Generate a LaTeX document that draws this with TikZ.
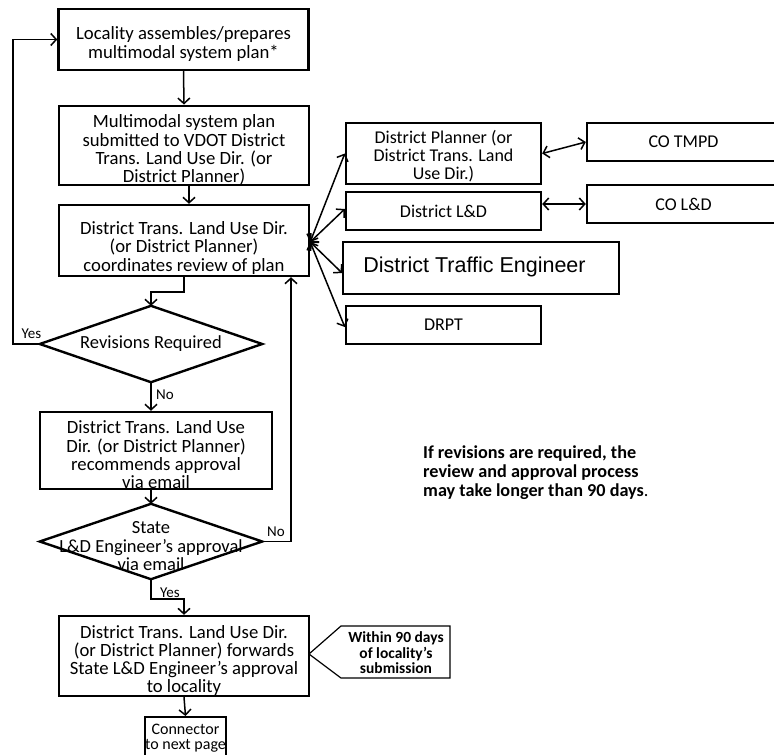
\documentclass[tikz,border=0pt]{standalone}
\usepackage{fontspec}
\setmainfont{Carlito}
\newfontfamily\arialf{Liberation Sans}
\usetikzlibrary{arrows.meta,calc}
\newcommand{\tstr}[1]{\rule{0pt}{#1}}
\begin{document}
\begin{tikzpicture}[x=1pt,y=-1pt,
  box/.style={draw, line width=2.4pt, align=center, inner sep=0pt,
    font=\fontsize{18.7}{18.3}\selectfont},
  rbox/.style={draw, line width=2.4pt, align=center, inner sep=0pt,
    font=\fontsize{18}{18}\selectfont},
  dia/.style={align=center, inner sep=0pt, minimum width=222pt, minimum height=76pt,
    font=\fontsize{18.5}{18.5}\selectfont},
  lab/.style={font=\fontsize{15}{15}\selectfont, inner sep=0pt},
  arr/.style={line width=1.5pt, -{Straight Barb[length=5.5pt,width=12pt,line width=1.5pt]}},
  darr/.style={line width=1.5pt, {Straight Barb[length=5.5pt,width=12pt,line width=1.5pt]}-{Straight Barb[length=5.5pt,width=12pt,line width=1.5pt]}},
  diaedge/.style={line width=2.4pt}
]
\useasboundingbox (0,0) rectangle (774,755);

% left column
\node[box, minimum width=250pt, minimum height=61pt] (b1) at (183.5,39.5)
  {\tstr{22pt}Locality assembles/prepares\\multimodal system plan*};
\node[box, minimum width=250pt, minimum height=75pt] (b2) at (184,145.5)
  {\tstr{22pt}Multimodal system plan\\submitted to VDOT District\\Trans. Land Use Dir. (or\\District Planner)};
\node[box, minimum width=250pt, minimum height=71pt] (b3) at (184,240.5)
  {\tstr{28pt}District Trans. Land Use Dir.\\(or District Planner)\\coordinates review of plan};
\node[dia] (d1) at (151,344) {Revisions Required};
\draw[diaedge] (d1.north) -- (d1.east) -- (d1.south) -- (d1.west) -- cycle;
\node[box, minimum width=232pt, minimum height=75pt] (b4) at (156,450.5)
  {\tstr{22pt}District Trans. Land Use\\Dir. (or District Planner)\\recommends approval\\via email};
\node[dia, minimum height=75pt] (d2) at (151,541.5)
  {\tstr{22pt}State\\L\&D Engineer’s approval\\via email};
\draw[diaedge] (d2.north) -- (d2.east) -- (d2.south) -- (d2.west) -- cycle;
\node[box, minimum width=250pt, minimum height=76pt] (b5) at (184,656)
  {\tstr{22pt}District Trans. Land Use Dir.\\(or District Planner) forwards\\State L\&D Engineer’s approval\\to locality};
\node[draw, line width=2pt, align=center, inner sep=0pt, minimum width=81pt,
  minimum height=42pt, anchor=north, font=\fontsize{16}{15}\selectfont] (conn) at (185.5,716)
  {Connector\\to next page};

% callout
\node[align=center, inner sep=0pt, font=\fontsize{15.5}{15.5}\selectfont\bfseries] (call) at (396,653)
  {Within 90 days\\of locality’s\\submission};
\draw[line width=1.2pt] (309,654) -- (341,626) -- (450,626) -- (450,678) -- (341,678) -- cycle;

% note
\node[align=left, anchor=north west, inner sep=0pt,
  font=\fontsize{18.2}{18.7}\selectfont] (note) at (423,446)
  {\textbf{If revisions are required, the}\\\textbf{review and approval process}\\\textbf{may take longer than 90 days}.};

% right column
\node[rbox, minimum width=195pt, minimum height=61pt] (rp) at (443.5,153.5)
  {\tstr{19pt}District Planner (or\\District Trans. Land\\Use Dir.)};
\node[rbox, minimum width=195pt, minimum height=38pt] (rl) at (443.5,211) {District L\&D};
\node[draw, line width=1.8pt, inner sep=0pt, minimum width=276pt, minimum height=52pt] (rt) at (481,268) {};
\node[inner sep=0pt, font=\arialf\fontsize{21.5}{22}\selectfont] (rtt) at (474.5,267) {District Traffic Engineer};
\node[rbox, minimum width=195pt, minimum height=38pt] (rd) at (443.5,325) {DRPT};
\node[rbox, minimum width=193pt, minimum height=38pt] (cot) at (683.5,142) {CO TMPD};
\node[rbox, minimum width=193pt, minimum height=38pt] (col) at (683.5,204) {CO L\&D};

% connectors
\draw[arr] (b1.south) -- (b2.north);
\draw[arr] ([xshift=5pt]b2.south) -- ([xshift=5pt]b2.south |- b3.north);
\draw[arr] (b3.south) -- ++(0,15) -| (d1.north);
\draw[arr] (d1.west) -- ++(-27,0) |- (b1.west);
\node[lab] (yes1) at (31.5,334) {Yes};
\draw[arr] (d1.south) -- (d1.south |- b4.north);
\node[lab] (no1) at (165,395) {No};
\draw[arr] (d2.north |- b4.south) -- (d2.north);
\draw[arr] (d2.east) -| ([xshift=107pt]b3.south);
\node[lab] (no2) at (276,532) {No};
\draw[arr] (d2.south) -- ++(0,20) -| (b5.north);
\node[lab] (yes2) at (170,593) {Yes};
\draw[arr] (b5.south) -- (conn.north);

\coordinate (fan) at ($(b3.east)+(0,1.5)$);
\draw[darr] (fan) -- (rp.west);
\draw[darr] (fan) -- ([yshift=2pt]rl.west);
\draw[darr] (fan) -- ([yshift=-5pt]rt.west);
\draw[darr] (fan) -- ([yshift=-2pt]rd.west);
\draw[darr] (rp.east) -- (cot.west);
\draw[darr] (rl.east |- col.west) -- (col.west);
\end{tikzpicture}
\end{document}
